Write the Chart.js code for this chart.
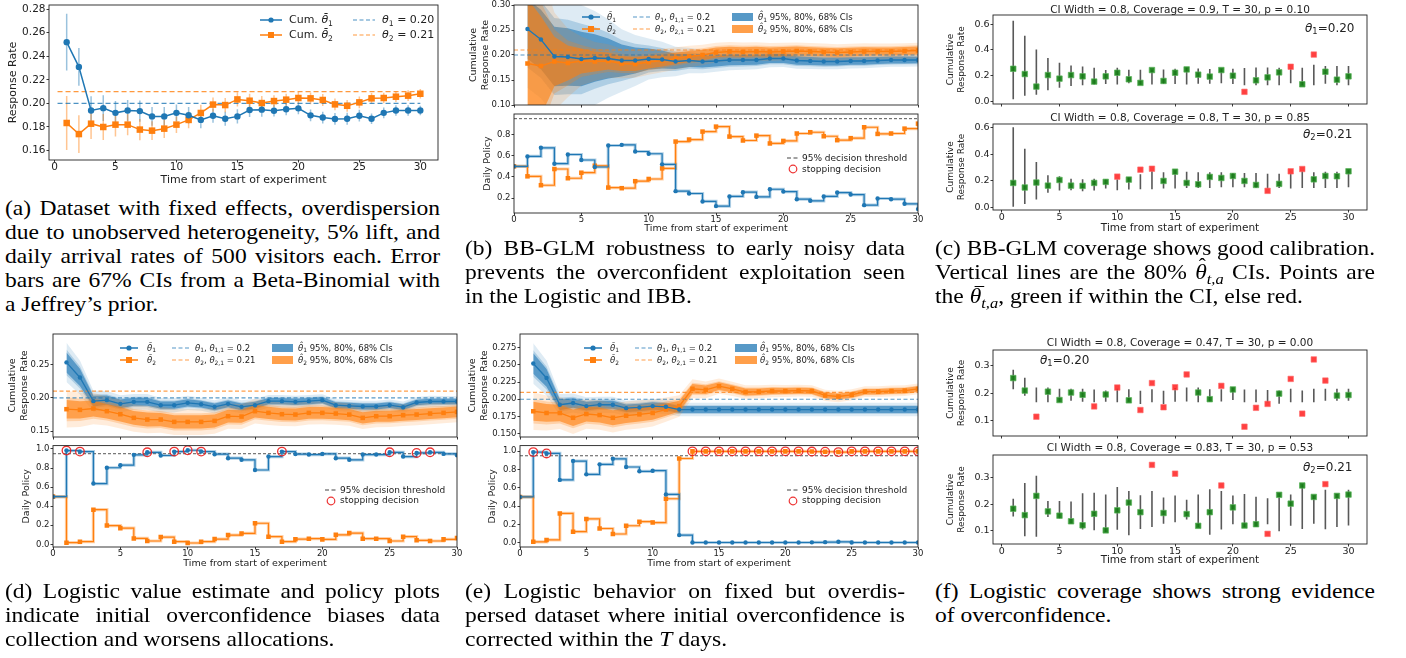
<!DOCTYPE html>
<html><head><meta charset="utf-8">
<script src="https://cdn.jsdelivr.net/npm/chart.js@4.4.1/dist/chart.umd.min.js"></script>
<style>
html,body{margin:0;padding:0;background:#fff;}
body{width:1406px;height:658px;overflow:hidden;position:relative;font-family:"DejaVu Sans",sans-serif;color:#222;}
.tx{position:absolute;white-space:nowrap;font-family:"DejaVu Sans",sans-serif;color:#222;z-index:5;}
.tx sub,.cap sub{font-size:70%;vertical-align:baseline;position:relative;top:0.3em;line-height:0;}
.smp{position:absolute;z-index:5;overflow:visible;}
.cap{position:absolute;white-space:nowrap;font-family:"Liberation Serif","DejaVu Serif",serif;font-size:22px;line-height:24px;height:24px;color:#000;z-index:5;transform-origin:0 0;}
.acc{position:relative;display:inline-block;}
.acc .ac{position:absolute;left:0.12em;right:0;text-align:center;top:-0.42em;font-style:normal;font-size:90%;}
.acc .bar{position:absolute;left:0.2em;width:0.42em;top:0.1em;border-top:1.3px solid #000;}
</style></head><body>
<script>
// ---------------- DATA ----------------
const T  = [1,2,3,4,5,6,7,8,9,10,11,12,13,14,15,16,17,18,19,20,21,22,23,24,25,26,27,28,29,30];
const T0 = [0,1,2,3,4,5,6,7,8,9,10,11,12,13,14,15,16,17,18,19,20,21,22,23,24,25,26,27,28,29,30];
const X_TICKS = [0,5,10,15,20,25,30];

// (a) fixed-effects dataset
const a_mean1 = [0.252,0.231,0.194,0.196,0.192,0.194,0.1935,0.189,0.189,0.192,0.190,0.186,0.1896,0.187,0.189,0.1944,0.1947,0.1938,0.195,0.1958,0.1899,0.188,0.1868,0.187,0.1896,0.187,0.192,0.194,0.194,0.194];
const a_err1  = [0.024,0.016,0.012,0.011,0.010,0.009,0.009,0.008,0.008,0.007,0.007,0.007,0.006,0.006,0.006,0.006,0.006,0.005,0.005,0.005,0.005,0.005,0.005,0.005,0.005,0.0045,0.0045,0.0045,0.0045,0.004];
const a_mean2 = [0.1834,0.174,0.1828,0.180,0.182,0.182,0.1778,0.1769,0.1786,0.182,0.186,0.1919,0.199,0.1986,0.2034,0.2023,0.2003,0.202,0.2032,0.2046,0.2043,0.2029,0.1992,0.198,0.2009,0.2043,0.2046,0.2057,0.2066,0.2082];
const a_err2  = [0.023,0.016,0.013,0.011,0.010,0.009,0.009,0.008,0.008,0.007,0.007,0.007,0.006,0.006,0.006,0.006,0.006,0.005,0.005,0.005,0.005,0.005,0.005,0.005,0.005,0.0045,0.0045,0.0045,0.0045,0.004];
const a_true = [0.20, 0.21];
const a_refSpan = [0.25, 30];
const a_yticks = [0.16,0.18,0.20,0.22,0.24,0.26,0.28];

// (b) BB-GLM
const b_mean1 = [0.252,0.231,0.197,0.196,0.192,0.194,0.193,0.189,0.189,0.192,0.191,0.187,0.189,0.187,0.188,0.19,0.19,0.19,0.193,0.193,0.189,0.188,0.187,0.187,0.188,0.188,0.189,0.19,0.19,0.19];
const b_sd1   = [0.06,0.06,0.06,0.058,0.055,0.048,0.04,0.032,0.026,0.021,0.018,0.015,0.013,0.012,0.011,0.0105,0.01,0.0095,0.009,0.0088,0.0085,0.0082,0.008,0.0078,0.0076,0.0074,0.0072,0.007,0.0068,0.0066];
const b_mean2 = [0.183,0.178,0.187,0.184,0.188,0.187,0.188,0.183,0.182,0.186,0.189,0.193,0.197,0.200,0.205,0.207,0.206,0.207,0.206,0.207,0.208,0.207,0.206,0.205,0.206,0.207,0.207,0.207,0.208,0.209];
const b_sd2   = [0.13,0.1,0.05,0.035,0.025,0.02,0.017,0.015,0.014,0.013,0.012,0.0115,0.011,0.0105,0.01,0.0098,0.0096,0.0094,0.0092,0.009,0.0088,0.0087,0.0086,0.0085,0.0084,0.0083,0.0082,0.0081,0.008,0.008];
const b_pol1  = [0.5,0.594,0.675,0.525,0.612,0.56,0.494,0.697,0.703,0.64,0.619,0.519,0.266,0.244,0.169,0.125,0.216,0.256,0.212,0.284,0.262,0.19,0.175,0.216,0.253,0.234,0.134,0.197,0.19,0.147,0.097];
const b_pol2  = [0.5,0.406,0.322,0.475,0.388,0.44,0.506,0.3,0.294,0.36,0.381,0.481,0.734,0.753,0.828,0.875,0.781,0.744,0.79,0.716,0.74,0.81,0.822,0.784,0.747,0.766,0.869,0.806,0.81,0.856,0.903];
const b_stops = [];

// (c) BB-GLM coverage
const c1_pt = [0.252,0.211,0.113,0.203,0.175,0.203,0.193,0.152,0.193,0.221,0.17,0.142,0.242,0.157,0.221,0.247,0.206,0.191,0.242,0.198,0.072,0.162,0.185,0.224,0.268,0.131,0.363,0.229,0.167,0.193];
const c1_lo = [0.015,0.041,0.049,0.085,0.103,0.118,0.124,0.129,0.134,0.129,0.139,0.129,0.129,0.134,0.134,0.129,0.136,0.136,0.139,0.134,0.124,0.124,0.124,0.124,0.139,0.124,0.124,0.136,0.124,0.124];
const c1_hi = [0.628,0.51,0.402,0.337,0.299,0.278,0.27,0.26,0.242,0.26,0.245,0.245,0.247,0.247,0.252,0.26,0.255,0.25,0.252,0.252,0.258,0.263,0.263,0.26,0.252,0.26,0.283,0.273,0.273,0.273];
const c2_pt = [0.185,0.151,0.188,0.165,0.207,0.165,0.163,0.185,0.193,0.232,0.21,0.284,0.291,0.2,0.269,0.185,0.175,0.23,0.222,0.237,0.2,0.17,0.126,0.178,0.272,0.289,0.212,0.237,0.235,0.272];
const c2_lo = [0.007,0.027,0.062,0.111,0.128,0.131,0.123,0.128,0.143,0.131,0.136,0.138,0.138,0.143,0.143,0.148,0.148,0.148,0.153,0.153,0.153,0.148,0.143,0.148,0.143,0.148,0.148,0.148,0.148,0.153];
const c2_hi = [0.6,0.44,0.341,0.242,0.235,0.217,0.212,0.217,0.212,0.212,0.227,0.249,0.274,0.264,0.279,0.269,0.264,0.264,0.264,0.259,0.259,0.259,0.254,0.254,0.254,0.272,0.264,0.269,0.269,0.279];

// (d) Logistic
const d_mean1 = [0.253,0.2305,0.195,0.1965,0.191,0.194,0.194,0.189,0.189,0.1925,0.1905,0.1865,0.191,0.1865,0.189,0.195,0.195,0.194,0.195,0.1965,0.189,0.188,0.187,0.187,0.189,0.186,0.193,0.1945,0.1945,0.1945];
const d_sd1   = [0.015,0.013,0.008,0.007,0.0065,0.006,0.006,0.0055,0.0055,0.0055,0.005,0.005,0.005,0.005,0.005,0.0048,0.0048,0.0047,0.0047,0.0046,0.0045,0.0045,0.0045,0.0044,0.0044,0.0044,0.0043,0.0043,0.0042,0.0042];
const d_mean2 = [0.183,0.182,0.184,0.18,0.1755,0.17,0.1675,0.1675,0.164,0.164,0.164,0.1655,0.1725,0.172,0.18,0.1775,0.1755,0.175,0.1775,0.1775,0.1765,0.175,0.17,0.1725,0.1725,0.174,0.175,0.1765,0.1775,0.179];
const d_sd2   = [0.014,0.013,0.012,0.011,0.011,0.0105,0.0105,0.01,0.01,0.01,0.01,0.0098,0.0096,0.0095,0.0094,0.0092,0.009,0.009,0.0088,0.0087,0.0086,0.0085,0.0085,0.0084,0.0083,0.0082,0.0082,0.0081,0.008,0.008];
const d_pol1  = [0.5,0.983,0.972,0.637,0.803,0.83,0.938,0.965,0.931,0.972,0.986,0.972,0.945,0.903,0.886,0.779,0.92,0.972,0.946,0.941,0.948,0.903,0.886,0.941,0.941,0.965,0.92,0.958,0.965,0.948,0.934];
const d_pol2  = [0.5,0.017,0.028,0.363,0.197,0.17,0.062,0.035,0.076,0.028,0.014,0.028,0.055,0.097,0.114,0.221,0.08,0.028,0.054,0.059,0.052,0.1,0.118,0.059,0.059,0.035,0.08,0.042,0.035,0.052,0.066];
const d_stops = [1,2,7,9,10,11,17,25,27,28];

// (e) Logistic, overdispersed
const e_mean1 = [0.252,0.231,0.192,0.1945,0.19,0.192,0.192,0.187,0.188,0.19,0.189,0.185,0.185,0.185,0.185,0.185,0.185,0.185,0.185,0.185,0.185,0.185,0.185,0.185,0.185,0.185,0.185,0.185,0.185,0.185];
const e_sd1   = [0.015,0.013,0.008,0.007,0.0065,0.006,0.006,0.0055,0.0055,0.0055,0.0052,0.005,0.005,0.005,0.005,0.005,0.005,0.005,0.005,0.005,0.005,0.005,0.005,0.005,0.005,0.005,0.005,0.005,0.005,0.005];
const e_mean2 = [0.1825,0.18,0.18,0.173,0.1785,0.177,0.173,0.176,0.178,0.18,0.185,0.19,0.2152,0.2137,0.219,0.2152,0.2105,0.211,0.212,0.212,0.2125,0.212,0.2055,0.204,0.2064,0.211,0.211,0.212,0.2125,0.215];
const e_sd2   = [0.014,0.013,0.012,0.012,0.011,0.011,0.011,0.0105,0.0105,0.01,0.009,0.008,0.007,0.0062,0.0057,0.0053,0.005,0.0048,0.0046,0.0045,0.0044,0.0043,0.0042,0.0042,0.0041,0.004,0.004,0.004,0.004,0.004];
const e_pol1  = [0.5,0.99,0.975,0.686,0.892,0.747,0.856,0.917,0.827,0.78,0.787,0.527,0.083,0.002,0.002,0.002,0.002,0.002,0.002,0.002,0.002,0.002,0.004,0.006,0.01,0.002,0.002,0.002,0.002,0.002,0.002];
const e_pol2  = [0.5,0.01,0.03,0.32,0.12,0.26,0.155,0.095,0.185,0.23,0.22,0.48,0.92,0.998,0.998,0.998,0.998,0.998,0.998,0.998,0.998,0.998,0.996,0.994,0.99,0.998,0.998,0.998,0.998,0.998,0.998];
const e_stops = [1,2,13,14,15,16,17,18,19,20,21,22,23,24,25,26,27,28,29,30];

// (f) Logistic coverage
const f1_pt = [0.254,0.209,0.115,0.205,0.175,0.202,0.194,0.152,0.195,0.22,0.174,0.139,0.236,0.149,0.221,0.267,0.202,0.178,0.226,0.213,0.079,0.147,0.161,0.198,0.251,0.126,0.321,0.245,0.191,0.193];
const f1_lo = [0.214,0.19,0.167,0.167,0.169,0.172,0.169,0.167,0.169,0.167,0.169,0.161,0.167,0.161,0.169,0.17,0.167,0.169,0.17,0.175,0.167,0.167,0.167,0.162,0.167,0.167,0.167,0.172,0.172,0.172];
const f1_hi = [0.284,0.255,0.22,0.22,0.216,0.216,0.216,0.213,0.209,0.216,0.214,0.208,0.214,0.208,0.218,0.22,0.22,0.214,0.214,0.22,0.213,0.213,0.211,0.209,0.216,0.209,0.216,0.216,0.216,0.216];
const f2_pt = [0.183,0.159,0.231,0.173,0.157,0.136,0.121,0.164,0.102,0.177,0.206,0.17,0.347,0.167,0.314,0.163,0.119,0.17,0.27,0.188,0.12,0.125,0.089,0.235,0.202,0.27,0.227,0.275,0.231,0.236];
const f2_lo = [0.154,0.08,0.078,0.152,0.146,0.127,0.105,0.102,0.096,0.104,0.084,0.107,0.115,0.127,0.132,0.143,0.115,0.086,0.105,0.125,0.115,0.115,0.125,0.099,0.119,0.107,0.127,0.106,0.115,0.12];
const f2_hi = [0.22,0.279,0.306,0.212,0.212,0.21,0.241,0.243,0.236,0.264,0.249,0.233,0.249,0.225,0.232,0.217,0.236,0.256,0.249,0.232,0.238,0.228,0.222,0.241,0.236,0.275,0.232,0.254,0.238,0.254];

const REF_SPAN = [0, 30];
const THRESH = 0.95;
const CI_Z = [1.96, 1.2816, 0.9945];
const CI_ALPHA = [0.15, 0.25, 0.6];

// ---------------- HELPERS ----------------
const BLUE='#1f77b4', ORANGE='#ff7f0e', BLUE_RGB='31,119,180', ORANGE_RGB='255,127,14';
Chart.defaults.font.family = '"DejaVu Sans", sans-serif';
Chart.defaults.color = '#222';

function pts(xs, ys){ return xs.map((x,i)=>({x:x, y:ys[i]})); }

const framePlugin = {id:'frame', afterDraw(ch){ const c=ch.ctx, a=ch.chartArea; c.save(); c.strokeStyle='#222'; c.lineWidth=0.9; c.strokeRect(a.left, a.top, a.right-a.left, a.bottom-a.top); c.restore(); }};
function errPlugin(sets){ return {id:'errs', beforeDatasetsDraw(ch){
  const c=ch.ctx, a=ch.chartArea, xs=ch.scales.x, ys=ch.scales.y;
  c.save(); c.beginPath(); c.rect(a.left,a.top,a.right-a.left,a.bottom-a.top); c.clip();
  sets.forEach(s=>{ c.strokeStyle=s.color; c.lineWidth=s.width; c.beginPath();
    s.x.forEach((xv,i)=>{ const px=xs.getPixelForValue(xv); c.moveTo(px, ys.getPixelForValue(s.lo[i])); c.lineTo(px, ys.getPixelForValue(s.hi[i])); });
    c.stroke(); });
  c.restore(); }}; }

function makeChart(o){
  const [L,Tp,R,B]=o.rect;
  const cl=L-o.wY, ct=Tp-o.padT, w=R-L+o.wY+o.padR, h=B-Tp+o.padT+o.hX;
  const cv=document.createElement('canvas');
  cv.width=w; cv.height=h;
  cv.style.cssText='position:absolute;left:'+cl+'px;top:'+ct+'px;width:'+w+'px;height:'+h+'px;';
  document.body.appendChild(cv);
  const yfs=o.ytFont, ylh=yfs*1.2, xfs=o.xtFont||9, xlh=xfs*1.2;
  const grid={display:true, drawOnChartArea:false, drawTicks:true, tickLength:2.5, tickColor:'#222', tickWidth:0.9};
  return new Chart(cv,{type:'line', data:{datasets:o.datasets}, options:{
    responsive:false, animation:false, events:[],
    layout:{padding:{left:0,top:o.padT,right:o.padR,bottom:0}},
    plugins:{legend:{display:false}, tooltip:{enabled:false}},
    scales:{
      x:{type:'linear', position:'bottom', min:o.xmin, max:o.xmax,
        afterBuildTicks:s=>{s.ticks=o.xticks.map(v=>({value:v}));},
        afterFit:s=>{s.height=o.hX; s.paddingLeft=0; s.paddingRight=0;},
        grid:grid, border:{display:false},
        ticks:{autoSkip:false, maxRotation:0, padding:(o.xpad!==undefined?o.xpad:-1), color:'#222', font:{size:o.tickFont}, callback:v=>o.xlabels?String(v):''},
        title:{display:!!o.xtitle, text:o.xtitle||'', color:'#222', font:{size:xfs}, padding:{top:0,bottom:o.xtitle?(B+o.hX-o.xtY-xlh/2):0}}
      },
      y:{type:'linear', position:'left', min:o.ymin, max:o.ymax,
        afterBuildTicks:s=>{s.ticks=o.yticks.map(v=>({value:v}));},
        afterFit:s=>{s.width=o.wY; s.paddingTop=0; s.paddingBottom=0;},
        grid:grid, border:{display:false},
        ticks:{autoSkip:false, padding:1, color:'#222', font:{size:o.tickFont}, callback:v=>Number(v).toFixed(o.ydec)},
        title:{display:true, text:o.ytitle, color:'#222', font:{size:yfs}, padding:{top:o.ytX-cl-ylh/2, bottom:0}}
      }
    }
  }, plugins:[framePlugin, errPlugin(o.errs||[])]});
}

function lineDS(xs, ys, color, style, r, lw, extra){
  return Object.assign({data:pts(xs,ys), borderColor:color, backgroundColor:color, borderWidth:lw, pointStyle:style, pointRadius:r, pointBorderWidth:0, pointBackgroundColor:color, fill:false, tension:0}, extra||{});
}
function hline(span, v, color, lw, dash){
  return {data:[{x:span[0],y:v},{x:span[1],y:v}], borderColor:color, borderWidth:lw, borderDash:dash, pointRadius:0, fill:false};
}
function bandSets(xs, mean, sd, rgb){
  const out=[];
  CI_Z.forEach((z,k)=>{
    out.push({data:pts(xs, mean.map((m,i)=>m-z*sd[i])), borderWidth:0, borderColor:'rgba(0,0,0,0)', pointRadius:0, fill:false});
    out.push({data:pts(xs, mean.map((m,i)=>m+z*sd[i])), borderWidth:0, borderColor:'rgba(0,0,0,0)', pointRadius:0, fill:'-1', backgroundColor:'rgba('+rgb+','+CI_ALPHA[k]+')'});
  });
  return out;
}
function fanDatasets(m1, s1, m2, s2){
  return [].concat(
    [lineDS(T, m1, BLUE, 'circle', 2.2, 1.3), lineDS(T, m2, ORANGE, 'rect', 3.2, 1.3),
     hline(REF_SPAN, a_true[0], 'rgba(31,119,180,0.75)', 1.2, [4,2.5]),
     hline(REF_SPAN, a_true[1], 'rgba(255,127,14,0.75)', 1.2, [4,2.5])],
    bandSets(T, m2, s2, ORANGE_RGB),
    bandSets(T, m1, s1, BLUE_RGB));
}
function policyDatasets(p1, p2, stops){
  const st = stops.map(t=>({x:t, y:Math.max(p1[t], p2[t])}));
  return [
    {data:st, showLine:false, pointStyle:'circle', pointRadius:4.3, pointBorderWidth:1.3, pointBorderColor:'rgba(235,30,30,0.9)', pointBackgroundColor:'rgba(0,0,0,0)', borderColor:'rgba(0,0,0,0)'},
    lineDS(T0, p1, BLUE, 'circle', 2.2, 1.2, {stepped:'before'}),
    lineDS(T0, p2, ORANGE, 'rect', 3.2, 1.2, {stepped:'before'}),
    {data:pts(T0,p1), borderColor:'rgba(31,119,180,0.35)', borderWidth:3.2, pointRadius:0, stepped:'before', fill:false},
    {data:pts(T0,p2), borderColor:'rgba(255,127,14,0.35)', borderWidth:3.2, pointRadius:0, stepped:'before', fill:false},
    hline(REF_SPAN, THRESH, '#444', 0.9, [3,2])
  ];
}
function coverageDatasets(pt, lo, hi){
  const inside = pt.map((v,i)=> v>=lo[i] && v<=hi[i]);
  return [{data:pts(T,pt), showLine:false, pointStyle:'rect', pointRadius:3.9, pointBorderWidth:1,
    pointBackgroundColor: inside.map(f=>f?'rgba(20,125,20,0.9)':'rgba(255,30,30,0.85)'),
    pointBorderColor: inside.map(f=>f?'rgba(90,180,90,0.7)':'rgba(255,110,110,0.6)'),
    borderColor:'rgba(0,0,0,0)'}];
}
function addText(html, x, yc, fs, align, fam){
  const d=document.createElement('div'); d.className='tx'; d.innerHTML=html;
  d.style.fontSize=fs+'px'; d.style.lineHeight=(fs*1.2)+'px'; d.style.top=(yc-fs*0.6)+'px';
  if(fam) d.style.fontFamily=fam;
  if(align==='center'){ d.style.left=(x-300)+'px'; d.style.width='600px'; d.style.textAlign='center'; } else { d.style.left=x+'px'; }
  document.body.appendChild(d);
}
function addSample(type, color, x0, x1, yc){
  const w=x1-x0, h=12, m=h/2; let s='';
  if(type==='lc'||type==='ls') s+='<line x1="0" y1="'+m+'" x2="'+w+'" y2="'+m+'" stroke="'+color+'" stroke-width="1.5"/>';
  if(type==='lc') s+='<circle cx="'+(w/2)+'" cy="'+m+'" r="2.6" fill="'+color+'"/>';
  if(type==='ls') s+='<rect x="'+(w/2-3)+'" y="'+(m-3)+'" width="6" height="6" fill="'+color+'"/>';
  if(type==='dash') s+='<line x1="0" y1="'+m+'" x2="'+w+'" y2="'+m+'" stroke="'+color+'" stroke-width="1.2" stroke-dasharray="4,2.5"/>';
  if(type==='patch') s+='<rect x="0" y="'+(m-4)+'" width="'+w+'" height="8" fill="'+color+'"/>';
  if(type==='ring') s+='<circle cx="'+(w/2)+'" cy="'+m+'" r="3.8" fill="none" stroke="rgba(235,30,30,0.9)" stroke-width="1.2"/>';
  const d=document.createElement('div'); d.className='smp';
  d.style.left=x0+'px'; d.style.top=(yc-m)+'px';
  d.innerHTML='<svg width="'+w+'" height="'+h+'" style="overflow:visible;display:block">'+s+'</svg>';
  document.body.appendChild(d);
}

const TB = '&#952;&#772;', TH='&#952;&#770;';
const CAP_HAT = '<span class="acc"><i>&#952;</i><span class="ac">&#710;</span></span>';
const CAP_BAR = '<span class="acc"><i>&#952;</i><span class="bar"></span></span>';

// ---------------- (a) ----------------
makeChart({rect:[49,5,438,160], wY:49, hX:28, padT:5, padR:8,
  xmin:-0.45, xmax:31.45, xticks:X_TICKS, xlabels:true, xtitle:'Time from start of experiment', xtFont:11, xtY:180, xpad:-2,
  ymin:0.152, ymax:0.2835, yticks:a_yticks, ydec:2, ytitle:'Response Rate', ytFont:11, ytX:13, tickFont:10.5,
  errs:[{x:T, lo:a_mean1.map((m,i)=>m-a_err1[i]), hi:a_mean1.map((m,i)=>m+a_err1[i]), color:'rgba(31,119,180,0.45)', width:1.5},
        {x:T, lo:a_mean2.map((m,i)=>m-a_err2[i]), hi:a_mean2.map((m,i)=>m+a_err2[i]), color:'rgba(255,127,14,0.45)', width:1.5}],
  datasets:[lineDS(T,a_mean1,BLUE,'circle',3.2,1.5), lineDS(T,a_mean2,ORANGE,'rect',4.6,1.5),
    hline(a_refSpan, a_true[0], 'rgba(31,119,180,0.8)', 1.3, [5,3]), hline(a_refSpan, a_true[1], 'rgba(255,127,14,0.8)', 1.3, [5,3])]});
addSample('lc', BLUE, 260, 282, 20);   addText('Cum. <i>'+TB+'</i><sub>1</sub>', 289, 20, 11);
addSample('ls', ORANGE, 260, 282, 35); addText('Cum. <i>'+TB+'</i><sub>2</sub>', 289, 35, 11);
addSample('dash', 'rgba(31,119,180,0.8)', 353, 375, 20);  addText('<i>&#952;</i><sub>1</sub> = 0.20', 382, 20, 11);
addSample('dash', 'rgba(255,127,14,0.8)', 353, 375, 35);  addText('<i>&#952;</i><sub>2</sub> = 0.21', 382, 35, 11);

// ---------------- (b) ----------------
makeChart({rect:[514,5,918,105], wY:50, hX:4, padT:5, padR:8,
  xmin:0, xmax:30, xticks:X_TICKS, xlabels:false,
  ymin:0.10, ymax:0.30, yticks:[0.10,0.15,0.20,0.25,0.30], ydec:2, ytitle:['Cumulative','Response Rate'], ytFont:9.5, ytX:474, tickFont:8.5,
  datasets:fanDatasets(b_mean1,b_sd1,b_mean2,b_sd2)});
makeChart({rect:[514,114,918,213], wY:50, hX:26, padT:4, padR:10,
  xmin:0, xmax:30, xticks:X_TICKS, xlabels:true, xtitle:'Time from start of experiment', xtFont:9.5, xtY:229,
  ymin:0.06, ymax:0.994, yticks:[0.2,0.4,0.6,0.8], ydec:1, ytitle:'Daily Policy', ytFont:9.5, ytX:488, tickFont:8.5,
  datasets:policyDatasets(b_pol1,b_pol2,b_stops)});
function fanLegend(c1, c2, c3, r1, r2){
  addSample('lc', BLUE, c1[0], c1[1], r1);  addText('<i>'+TB+'</i><sub>1</sub>', c1[2], r1, 8.5);
  addSample('ls', ORANGE, c1[0], c1[1], r2); addText('<i>'+TB+'</i><sub>2</sub>', c1[2], r2, 8.5);
  addSample('dash', 'rgba(31,119,180,0.75)', c2[0], c2[1], r1); addText('<i>&#952;</i><sub>1</sub>, <i>&#952;</i><sub>1,1</sub> = 0.2', c2[2], r1, 8.5);
  addSample('dash', 'rgba(255,127,14,0.75)', c2[0], c2[1], r2); addText('<i>&#952;</i><sub>2</sub>, <i>&#952;</i><sub>2,1</sub> = 0.21', c2[2], r2, 8.5);
  addSample('patch', 'rgba(31,119,180,0.75)', c3[0], c3[1], r1); addText('<i>'+TH+'</i><sub>1</sub> 95%, 80%, 68% CIs', c3[2], r1, 8.5);
  addSample('patch', 'rgba(255,127,14,0.75)', c3[0], c3[1], r2); addText('<i>'+TH+'</i><sub>2</sub> 95%, 80%, 68% CIs', c3[2], r2, 8.5);
}
function polLegend(x0, x1, tx, r1, r2){
  addSample('dash', '#444', x0, x1, r1); addText('95% decision threshold', tx, r1, 9);
  addSample('ring', 'red', (x0+x1)/2-5, (x0+x1)/2+5, r2); addText('stopping decision', tx, r2, 9);
}
fanLegend([582,600,607],[633,650,655],[732,753,758],17,29);
polLegend(787,798,802,158,169);

// ---------------- (c) ----------------
makeChart({rect:[993,15,1367,105], wY:62, hX:4, padT:15, padR:8,
  xmin:-0.75, xmax:31.6, xticks:X_TICKS, xlabels:false,
  ymin:-0.023, ymax:0.672, yticks:[0,0.2,0.4,0.6], ydec:1, ytitle:['Cumulative','Response Rate'], ytFont:9, ytX:951, tickFont:9.5,
  errs:[{x:T, lo:c1_lo, hi:c1_hi, color:'rgba(60,60,60,0.85)', width:1.6}],
  datasets:coverageDatasets(c1_pt,c1_lo,c1_hi)});
makeChart({rect:[993,123,1367,210], wY:62, hX:26, padT:4, padR:8,
  xmin:-0.75, xmax:31.6, xticks:X_TICKS, xlabels:true, xtitle:'Time from start of experiment', xtFont:10.5, xtY:228,
  ymin:-0.017, ymax:0.625, yticks:[0,0.2,0.4,0.6], ydec:1, ytitle:['Cumulative','Response Rate'], ytFont:9, ytX:951, tickFont:9.5,
  errs:[{x:T, lo:c2_lo, hi:c2_hi, color:'rgba(60,60,60,0.85)', width:1.6}],
  datasets:coverageDatasets(c2_pt,c2_lo,c2_hi)});
addText('CI Width = 0.8, Coverage = 0.9, T = 30, p = 0.10', 1180, 9.5, 10.5, 'center');
addText('CI Width = 0.8, Coverage = 0.8, T = 30, p = 0.85', 1180, 117, 10.5, 'center');
addText('<i>&#952;</i><sub>1</sub>=0.20', 1305, 28, 12);
addText('<i>&#952;</i><sub>2</sub>=0.21', 1303, 134, 12);

// ---------------- (d) ----------------
makeChart({rect:[53,334,457,437], wY:50, hX:4, padT:4, padR:8,
  xmin:0, xmax:30, xticks:X_TICKS, xlabels:false,
  ymin:0.1414, ymax:0.2955, yticks:[0.15,0.20,0.25], ydec:2, ytitle:['Cumulative','Response Rate'], ytFont:9.5, ytX:13, tickFont:8.5,
  datasets:fanDatasets(d_mean1,d_sd1,d_mean2,d_sd2)});
makeChart({rect:[53,444,457,547], wY:50, hX:26, padT:4, padR:10,
  xmin:0, xmax:30, xticks:X_TICKS, xlabels:true, xtitle:'Time from start of experiment', xtFont:9.5, xtY:564,
  ymin:-0.028, ymax:1.035, yticks:[0,0.2,0.4,0.6,0.8,1.0], ydec:1, ytitle:'Daily Policy', ytFont:9.5, ytX:27, tickFont:8.5,
  datasets:policyDatasets(d_pol1,d_pol2,d_stops)});
fanLegend([120,138,147],[172,189,195],[272,293,298],347.7,360);
polLegend(325,337,340,490,500.7);

// ---------------- (e) ----------------
makeChart({rect:[520,334,918,437], wY:56, hX:4, padT:4, padR:8,
  xmin:0, xmax:30, xticks:X_TICKS, xlabels:false,
  ymin:0.145, ymax:0.295, yticks:[0.150,0.175,0.200,0.225,0.250,0.275], ydec:3, ytitle:['Cumulative','Response Rate'], ytFont:9.5, ytX:473, tickFont:8.5,
  datasets:fanDatasets(e_mean1,e_sd1,e_mean2,e_sd2)});
makeChart({rect:[520,444,918,547], wY:56, hX:26, padT:4, padR:10,
  xmin:0, xmax:30, xticks:X_TICKS, xlabels:true, xtitle:'Time from start of experiment', xtFont:9.5, xtY:564,
  ymin:-0.047, ymax:1.061, yticks:[0,0.2,0.4,0.6,0.8,1.0], ydec:1, ytitle:'Daily Policy', ytFont:9.5, ytX:493, tickFont:8.5,
  datasets:policyDatasets(e_pol1,e_pol2,e_stops)});
fanLegend([584,602,610],[635,653,657],[735,757,760],347.7,360);
polLegend(787,798,802,490,500.7);

// ---------------- (f) ----------------
makeChart({rect:[993,349,1367,437], wY:62, hX:4, padT:4, padR:8,
  xmin:-0.75, xmax:31.6, xticks:X_TICKS, xlabels:false,
  ymin:0.0456, ymax:0.355, yticks:[0.1,0.2,0.3], ydec:1, ytitle:['Cumulative','Response Rate'], ytFont:9, ytX:951, tickFont:9.5,
  errs:[{x:T, lo:f1_lo, hi:f1_hi, color:'rgba(60,60,60,0.85)', width:1.6}],
  datasets:coverageDatasets(f1_pt,f1_lo,f1_hi)});
makeChart({rect:[993,454,1367,544], wY:62, hX:26, padT:4, padR:8,
  xmin:-0.75, xmax:31.6, xticks:X_TICKS, xlabels:true, xtitle:'Time from start of experiment', xtFont:10.5, xtY:560,
  ymin:0.051, ymax:0.384, yticks:[0.1,0.2,0.3], ydec:1, ytitle:['Cumulative','Response Rate'], ytFont:9, ytX:951, tickFont:9.5,
  errs:[{x:T, lo:f2_lo, hi:f2_hi, color:'rgba(60,60,60,0.85)', width:1.6}],
  datasets:coverageDatasets(f2_pt,f2_lo,f2_hi)});
addText('CI Width = 0.8, Coverage = 0.47, T = 30, p = 0.00', 1180, 342, 10.5, 'center');
addText('CI Width = 0.8, Coverage = 0.83, T = 30, p = 0.53', 1180, 447.5, 10.5, 'center');
addText('<i>&#952;</i><sub>1</sub>=0.20', 1040, 360, 12);
addText('<i>&#952;</i><sub>2</sub>=0.21', 1303, 466.7, 12);

// ---------------- captions ----------------
const CAP_SCALE = 1.07;
const CAPTIONS = [
  {x:5, w:435, y:208, lines:['(a) Dataset with fixed effects, overdispersion','due to unobserved heterogeneity, 5% lift, and','daily arrival rates of 500 visitors each. Error','bars are 67% CIs from a Beta-Binomial with','a Jeffrey&#8217;s prior.']},
  {x:465, w:440, y:248, lines:['(b) BB-GLM robustness to early noisy data','prevents the overconfident exploitation seen','in the Logistic and IBB.']},
  {x:935, w:440, y:248, lines:['(c) BB-GLM coverage shows good calibration.','Vertical lines are the 80% '+CAP_HAT+'<sub><i>t,a</i></sub> CIs. Points are','the '+CAP_BAR+'<sub><i>t,a</i></sub>, green if within the CI, else red.']},
  {x:5, w:435, y:591, lines:['(d) Logistic value estimate and policy plots','indicate initial overconfidence biases data','collection and worsens allocations.']},
  {x:465, w:440, y:591, lines:['(e) Logistic behavior on fixed but overdis-','persed dataset where initial overconfidence is','corrected within the <i>T</i> days.']},
  {x:935, w:440, y:591, lines:['(f) Logistic coverage shows strong evidence','of overconfidence.']}
];
CAPTIONS.forEach(c=>{
  c.lines.forEach((ln,i)=>{
    const d=document.createElement('div');
    d.className='cap'; d.innerHTML=ln;
    d.style.left=c.x+'px'; d.style.top=(c.y+24*i-12)+'px';
    document.body.appendChild(d);
    const nat=d.getBoundingClientRect().width;
    const last=(i===c.lines.length-1);
    const s=Math.min(CAP_SCALE, c.w/nat);
    if(!last){
      const nsp=(d.textContent.match(/ /g)||[]).length;
      const extra=c.w/s-nat;
      if(nsp>0 && extra>0) d.style.wordSpacing=(extra/nsp)+'px';
    }
    d.style.transform='scaleX('+s+')';
  });
});
</script>
</body></html>
